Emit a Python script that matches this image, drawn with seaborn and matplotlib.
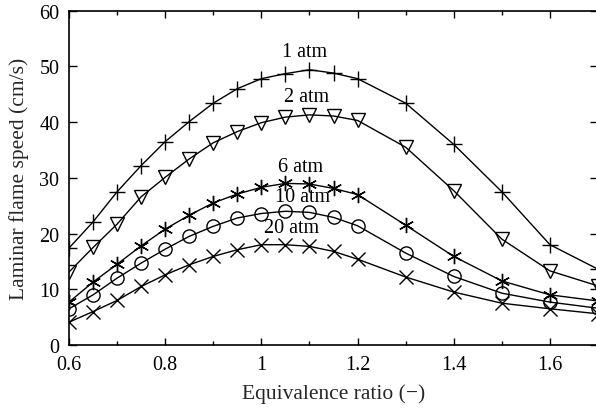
import matplotlib
matplotlib.use("Agg")
import matplotlib.pyplot as plt
import seaborn as sns
import pandas as pd
from matplotlib.ticker import MultipleLocator

phi = [0.6, 0.65, 0.7, 0.75, 0.8, 0.85, 0.9, 0.95, 1.0, 1.05, 1.1, 1.15, 1.2, 1.3, 1.4, 1.5, 1.6, 1.7]
s_1atm = [17.4, 22.1, 27.5, 32.2, 36.5, 40.1, 43.4, 46.0, 47.8, 48.7, 49.4, 48.8, 47.8, 43.4, 36.0, 27.5, 18.0, 13.6]
s_2atm = [13.1, 17.5, 21.7, 26.6, 30.1, 33.4, 36.3, 38.3, 39.9, 40.9, 41.3, 41.1, 40.3, 35.5, 27.7, 19.0, 13.3, 10.6]
s_6atm = [7.7, 11.3, 14.5, 17.8, 20.8, 23.3, 25.5, 27.1, 28.3, 29.0, 28.9, 28.1, 27.0, 21.5, 15.9, 11.5, 9.0, 7.9]
s_10atm = [6.5, 9.0, 12.0, 14.7, 17.2, 19.5, 21.3, 22.8, 23.6, 24.0, 23.8, 22.9, 21.4, 16.5, 12.3, 9.3, 7.7, 6.6]
s_20atm = [4.1, 6.0, 8.0, 10.5, 12.6, 14.4, 15.9, 17.1, 18.0, 18.0, 17.7, 16.8, 15.4, 12.2, 9.5, 7.5, 6.5, 5.6]

labels = ["1 atm", "2 atm", "6 atm", "10 atm", "20 atm"]
series = [s_1atm, s_2atm, s_6atm, s_10atm, s_20atm]
label_pos = [(1.09, 52.6), (1.093, 44.6), (1.082, 32.1), (1.086, 26.6), (1.063, 21.0)]

sns.set_style("ticks")
plt.rcParams['font.family'] = ['Liberation Serif', 'DejaVu Serif']

fig = plt.figure(figsize=(5.96, 4.10), dpi=100)
ax = fig.add_axes([0.1158, 0.1561, 0.8876, 0.8154])

markers = ['+', 'v', (6, 2, 0), 'o', 'x']
msizes = [11, 10, 11, 9.5, 10]
for lab, ys, mk, ms in zip(labels, series, markers, msizes):
    df = pd.DataFrame({"phi": phi, "S": ys})
    sns.lineplot(data=df, x="phi", y="S", ax=ax, color="black", linewidth=1.0,
                 marker=mk, markersize=ms, markerfacecolor="none",
                 markeredgecolor="black", markeredgewidth=1.0)

for lab, (lx, ly) in zip(labels, label_pos):
    ax.text(lx, ly, lab, ha="center", va="center", fontsize=14.5, color="black")

ax.set_xlim(0.6, 1.7)
ax.set_ylim(0, 60)
ax.xaxis.set_minor_locator(MultipleLocator(0.1))
ax.yaxis.set_major_locator(MultipleLocator(10))
ax.set_xticks([0.6, 0.8, 1.0, 1.2, 1.4, 1.6])
ax.set_xticklabels(["0.6", "0.8", "1", "1.2", "1.4", "1.6"])
ax.tick_params(which="both", direction="in", top=True, right=True, labelsize=14.5,
               width=1.0, color="black", labelcolor="black")
ax.tick_params(axis="x", which="major", length=5, pad=7)
ax.tick_params(axis="x", which="minor", length=3)
ax.tick_params(axis="y", which="major", length=6, pad=7)
for sp in ax.spines.values():
    sp.set_linewidth(1.2)
    sp.set_color("black")
ax.set_xlabel("Equivalence ratio (\u2212)", fontsize=15.5, labelpad=7)
ax.set_ylabel("Laminar flame speed (cm/s)", fontsize=15.5, labelpad=7)

fig.savefig("out.png", dpi=100)
